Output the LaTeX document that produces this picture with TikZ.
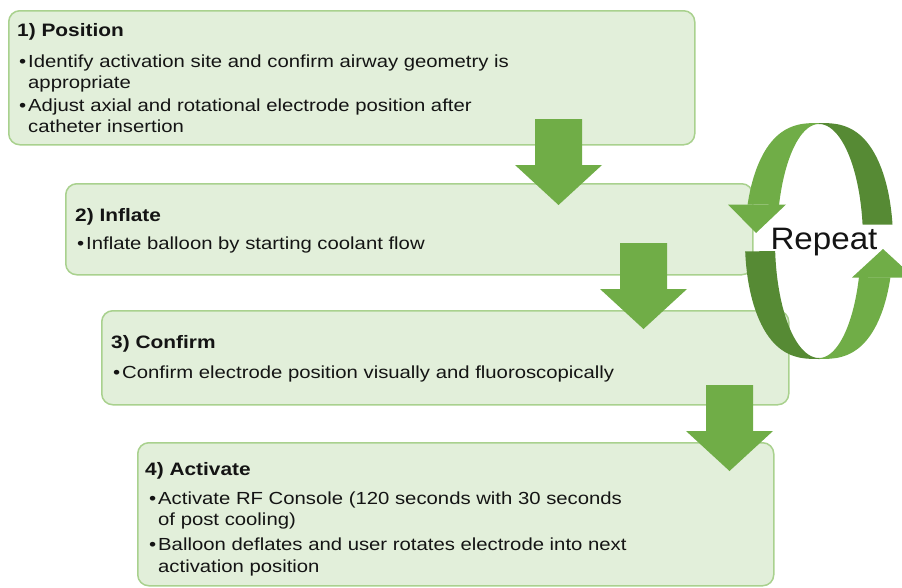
\documentclass[tikz,border=0pt]{standalone}
\usepackage{fontspec}
\setmainfont{Liberation Sans}[FakeStretch=1.16]
\newfontfamily\repfont{Liberation Sans}[FakeStretch=1.07]
\definecolor{boxfill}{RGB}{226,239,218}
\definecolor{boxline}{RGB}{169,209,142}
\definecolor{agreen}{RGB}{112,173,71}
\definecolor{dgreen}{RGB}{86,138,52}
\definecolor{txtc}{RGB}{20,20,20}
\begin{document}
\begin{tikzpicture}[x=1pt,y=-1pt,
  box/.style={draw=boxline,line width=1.5pt,fill=boxfill,rounded corners=11pt,anchor=north west,inner sep=0pt},
  barrow/.style={fill=agreen},
  ttl/.style={anchor=base west,inner sep=0pt,text=txtc,font=\fontsize{18}{21}\selectfont\bfseries},
  txt/.style={anchor=base west,inner sep=0pt,text=txtc,font=\fontsize{17.5}{21}\selectfont},
]
\useasboundingbox (0,0) rectangle (902,587);
\clip (0,0) rectangle (902,587);
\newcommand\bul{\makebox[9pt][l]{\textbullet}}
% boxes
\node[box,minimum width=686pt,minimum height=134pt] (b1) at (8,10) {};
\node[box,minimum width=687pt,minimum height=91pt] (b2) at (65,183) {};
\node[box,minimum width=687pt,minimum height=94pt] (b3) at (101,310) {};
\node[box,minimum width=636pt,minimum height=143pt] (b4) at (137,442) {};
% texts box 1
\node[ttl] (t1) at (17,36) {1) Position};
\node[txt] (t1a) at (19,67) {\bul Identify activation site and confirm airway geometry is};
\node[txt] (t1b) at (28,88) {appropriate};
\node[txt] (t1c) at (19,111) {\bul Adjust axial and rotational electrode position after};
\node[txt] (t1d) at (28,132) {catheter insertion};
% box 2
\node[ttl] (t2) at (75,221) {2) Inflate};
\node[txt] (t2a) at (77,249) {\bul Inflate balloon by starting coolant flow};
% box 3
\node[ttl] (t3) at (111,348) {3) Confirm};
\node[txt] (t3a) at (113,378) {\bul Confirm electrode position visually and fluoroscopically};
% box 4
\node[ttl] (t4) at (145,475) {4) Activate};
\node[txt] (t4a) at (149,504) {\bul Activate RF Console (120 seconds with 30 seconds};
\node[txt] (t4b) at (158,525) {of post cooling)};
\node[txt] (t4c) at (149,550) {\bul Balloon deflates and user rotates electrode into next};
\node[txt] (t4d) at (158,572) {activation position};
% block arrows
\foreach \cx/\ty in {558.5/119, 643.5/243, 729.5/385}{
  \begin{scope}[shift={(\cx,\ty)}]
    \path[barrow] (-23.5,0) -- (23.5,0) -- (23.5,46) -- (43.5,46) -- (0,86) -- (-43.5,46) -- (-23.5,46) -- cycle;
  \end{scope}
}
% repeat circular arrows (outer: rounded superellipse, inner: ellipse)
\fill[agreen] plot[domain=198:270,samples=50] ({819-74*(abs(cos(\x))+0.0001)^0.72},{241+118*sin(\x)})
   -- plot[domain=270:198,samples=50] ({819+42*cos(\x)},{241+117*sin(\x)}) -- cycle;
\fill[dgreen] plot[domain=270:352,samples=50] ({819+74*(abs(cos(\x))+0.0001)^0.72},{241+118*sin(\x)})
   -- plot[domain=352:270,samples=50] ({819+44*cos(\x)},{241+117*sin(\x)}) -- cycle;
\fill[agreen] (728,204.5) -- (786,204.5) -- (756,233) -- cycle;
\fill[dgreen] plot[domain=175:90,samples=50] ({819-74*(abs(cos(\x))+0.0001)^0.72},{241+118*sin(\x)})
   -- plot[domain=90:175,samples=50] ({819+44*cos(\x)},{241+117*sin(\x)}) -- cycle;
\fill[agreen] plot[domain=90:18,samples=50] ({819+74*(abs(cos(\x))+0.0001)^0.72},{241+118*sin(\x)})
   -- plot[domain=18:90,samples=50] ({819+42*cos(\x)},{241+117*sin(\x)}) -- cycle;
\fill[agreen] (852,277.5) -- (914,277.5) -- (883,249) -- cycle;
\node[anchor=base,inner sep=0pt,text=txtc,font=\repfont\fontsize{31}{31}\selectfont] (rep) at (824,249) {Repeat};
\end{tikzpicture}
\end{document}
